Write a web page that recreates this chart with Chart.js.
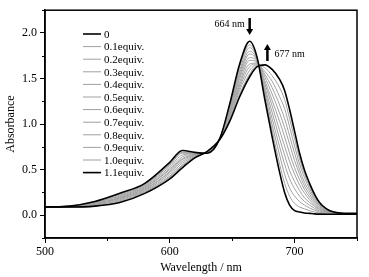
<!DOCTYPE html>
<html>
<head>
<meta charset="utf-8">
<script src="https://cdn.jsdelivr.net/npm/chart.js@4"></script>
<style>
  html, body { margin: 0; padding: 0; background: #fff; }
  canvas { display: block; }
</style>
</head>
<body>
<canvas id="chart" width="369" height="277"></canvas>
<script>
// wavelength grid (nm)
const wavelengths = [500, 520, 540, 560, 580, 600, 610, 620, 630, 640, 648, 656, 664, 670, 676, 682, 688, 692, 696, 700, 704, 708, 712, 716, 720, 725, 730, 740, 750];

// absorbance for each equivalent
const eq00 = [0.09, 0.10, 0.15, 0.24, 0.35, 0.58, 0.71, 0.69, 0.68, 0.84, 1.22, 1.66, 1.91, 1.73, 1.28, 0.86, 0.47, 0.25, 0.11, 0.05, 0.035, 0.025, 0.02, 0.015, 0.012, 0.01, 0.01, 0.01, 0.01];
const eq01 = [0.09, 0.10, 0.15, 0.23, 0.34, 0.56, 0.69, 0.685, 0.68, 0.84, 1.20, 1.63, 1.87, 1.72, 1.31, 0.93, 0.56, 0.35, 0.21, 0.13, 0.09, 0.07, 0.05, 0.035, 0.024, 0.016, 0.013, 0.011, 0.011];
const eq02 = [0.09, 0.10, 0.14, 0.22, 0.33, 0.55, 0.68, 0.68, 0.684, 0.84, 1.19, 1.59, 1.84, 1.71, 1.35, 0.99, 0.66, 0.45, 0.30, 0.21, 0.15, 0.11, 0.08, 0.055, 0.035, 0.022, 0.015, 0.012, 0.012];
const eq03 = [0.09, 0.10, 0.14, 0.21, 0.32, 0.53, 0.66, 0.674, 0.685, 0.84, 1.17, 1.56, 1.80, 1.70, 1.38, 1.06, 0.75, 0.56, 0.40, 0.29, 0.21, 0.15, 0.11, 0.075, 0.047, 0.028, 0.018, 0.013, 0.013];
const eq04 = [0.09, 0.10, 0.13, 0.20, 0.31, 0.51, 0.64, 0.668, 0.687, 0.84, 1.15, 1.53, 1.77, 1.69, 1.41, 1.13, 0.84, 0.66, 0.49, 0.37, 0.27, 0.19, 0.14, 0.095, 0.059, 0.034, 0.021, 0.014, 0.014];
const eq05 = [0.09, 0.10, 0.13, 0.19, 0.30, 0.50, 0.62, 0.663, 0.689, 0.84, 1.13, 1.50, 1.73, 1.68, 1.45, 1.20, 0.93, 0.76, 0.59, 0.45, 0.33, 0.24, 0.17, 0.11, 0.07, 0.04, 0.024, 0.015, 0.015];
const eq06 = [0.09, 0.09, 0.12, 0.19, 0.29, 0.48, 0.61, 0.657, 0.691, 0.83, 1.12, 1.46, 1.70, 1.68, 1.48, 1.26, 1.03, 0.86, 0.68, 0.52, 0.39, 0.28, 0.20, 0.13, 0.082, 0.045, 0.026, 0.015, 0.015];
const eq07 = [0.09, 0.09, 0.12, 0.18, 0.28, 0.47, 0.59, 0.652, 0.693, 0.83, 1.10, 1.43, 1.66, 1.67, 1.52, 1.33, 1.12, 0.96, 0.78, 0.60, 0.45, 0.32, 0.23, 0.15, 0.093, 0.051, 0.029, 0.016, 0.016];
const eq08 = [0.09, 0.09, 0.11, 0.17, 0.27, 0.45, 0.57, 0.646, 0.695, 0.83, 1.08, 1.40, 1.63, 1.66, 1.55, 1.40, 1.21, 1.06, 0.87, 0.68, 0.50, 0.36, 0.26, 0.17, 0.105, 0.057, 0.032, 0.017, 0.017];
const eq09 = [0.09, 0.09, 0.11, 0.16, 0.26, 0.43, 0.55, 0.641, 0.696, 0.83, 1.06, 1.37, 1.59, 1.65, 1.58, 1.47, 1.30, 1.17, 0.97, 0.76, 0.56, 0.41, 0.29, 0.19, 0.117, 0.063, 0.035, 0.018, 0.018];
const eq10 = [0.09, 0.09, 0.10, 0.15, 0.25, 0.42, 0.54, 0.635, 0.698, 0.83, 1.05, 1.33, 1.55, 1.64, 1.62, 1.53, 1.40, 1.27, 1.06, 0.84, 0.62, 0.45, 0.32, 0.21, 0.128, 0.069, 0.037, 0.019, 0.019];
const eq11 = [0.09, 0.09, 0.10, 0.14, 0.24, 0.40, 0.52, 0.63, 0.70, 0.83, 1.03, 1.30, 1.52, 1.63, 1.65, 1.60, 1.49, 1.37, 1.16, 0.92, 0.68, 0.49, 0.35, 0.23, 0.14, 0.075, 0.04, 0.02, 0.02];

const seriesLabels = ['0', '0.1equiv.', '0.2equiv.', '0.3equiv.', '0.4equiv.', '0.5equiv.', '0.6equiv.', '0.7equiv.', '0.8equiv.', '0.9equiv.', '1.0equiv.', '1.1equiv.'];
const seriesValues = [eq00, eq01, eq02, eq03, eq04, eq05, eq06, eq07, eq08, eq09, eq10, eq11];

const xTicks = [500, 600, 700];
const xMinorTicks = [550, 650, 750];
const yTicks = [0, 0.5, 1.0, 1.5, 2.0];
const yMinorTicks = [-0.25, 0.25, 0.75, 1.25, 1.75, 2.25];

const peakMarks = [
  { nm: 664, text: '664 nm', dir: 'down' },
  { nm: 677, text: '677 nm', dir: 'up' }
];

const serif = '"Liberation Serif", "Times New Roman", serif';
const GRAY = '#a0a0a0';

const datasets = seriesValues.map((vals, i) => {
  const isEnd = i === 0 || i === seriesValues.length - 1;
  return {
    label: seriesLabels[i],
    data: wavelengths.map((w, j) => ({ x: w, y: vals[j] })),
    borderColor: isEnd ? '#000' : GRAY,
    borderWidth: isEnd ? 1.6 : 1,
    pointRadius: 0,
    fill: false,
    cubicInterpolationMode: 'monotone',
    order: isEnd ? 0 : 1
  };
});

// legend inside the plot, plus box, minor ticks and peak arrows
const decorations = {
  id: 'decorations',
  afterDatasetsDraw(chart) {
    const { ctx, chartArea: a, scales: { x, y } } = chart;
    ctx.save();

    // frame
    ctx.strokeStyle = '#000';
    ctx.lineWidth = 1.5;
    ctx.strokeRect(a.left, a.top, a.right - a.left, a.bottom - a.top);

    // minor ticks
    ctx.lineWidth = 1;
    ctx.beginPath();
    xMinorTicks.forEach(v => {
      const px = Math.round(x.getPixelForValue(v)) + 0.5;
      ctx.moveTo(px, a.bottom);
      ctx.lineTo(px, a.bottom + 3);
    });
    yMinorTicks.forEach(v => {
      const py = Math.round(y.getPixelForValue(v)) + 0.5;
      ctx.moveTo(a.left, py);
      ctx.lineTo(a.left - 3, py);
    });
    ctx.stroke();

    // legend
    ctx.font = '11px ' + serif;
    ctx.textBaseline = 'middle';
    ctx.textAlign = 'left';
    chart.data.datasets.forEach((ds, i) => {
      const ly = 34 + i * 12.6;
      ctx.strokeStyle = ds.borderColor;
      ctx.lineWidth = ds.borderWidth;
      ctx.beginPath();
      ctx.moveTo(83, ly);
      ctx.lineTo(101, ly);
      ctx.stroke();
      ctx.fillStyle = '#000';
      ctx.fillText(ds.label, 104, ly + 1);
    });

    // peak arrows
    ctx.fillStyle = '#000';
    ctx.strokeStyle = '#000';
    peakMarks.forEach(m => {
      const down = m.dir === 'down';
      const ax = x.getPixelForValue(m.nm) + (down ? 0 : 1.5);
      const top = down ? 18 : 44;
      const bottom = down ? 35 : 61;
      ctx.lineWidth = 2.5;
      ctx.beginPath();
      if (down) {
        ctx.moveTo(ax, top);
        ctx.lineTo(ax, bottom - 5);
      } else {
        ctx.moveTo(ax, bottom);
        ctx.lineTo(ax, top + 5);
      }
      ctx.stroke();
      ctx.beginPath();
      if (down) {
        ctx.moveTo(ax - 3.5, bottom - 6);
        ctx.lineTo(ax + 3.5, bottom - 6);
        ctx.lineTo(ax, bottom);
      } else {
        ctx.moveTo(ax - 3.5, top + 6);
        ctx.lineTo(ax + 3.5, top + 6);
        ctx.lineTo(ax, top);
      }
      ctx.closePath();
      ctx.fill();
      ctx.font = '10px ' + serif;
      ctx.textAlign = down ? 'right' : 'left';
      ctx.textBaseline = 'middle';
      ctx.fillText(m.text, down ? ax - 5 : ax + 7, down ? 24 : 54);
    });

    ctx.restore();
  }
};

new Chart(document.getElementById('chart').getContext('2d'), {
  type: 'line',
  data: { datasets },
  options: {
    responsive: false,
    animation: false,
    layout: { padding: { top: 7, right: 12, left: 0, bottom: 0 } },
    plugins: { legend: { display: false }, tooltip: { enabled: false } },
    scales: {
      x: {
        type: 'linear',
        min: 500,
        max: 750,
        afterBuildTicks: s => { s.ticks = xTicks.map(v => ({ value: v })); },
        afterFit: s => { s.height = 39; },
        ticks: { color: '#000', font: { family: serif, size: 12 }, padding: 2, maxRotation: 0 },
        grid: { drawOnChartArea: false, color: '#000', tickLength: 5, tickWidth: 1 },
        border: { color: '#000', width: 1.5 },
        title: { display: true, text: 'Wavelength / nm', color: '#000', font: { family: serif, size: 12 }, padding: { top: 0, bottom: 2 } }
      },
      y: {
        type: 'linear',
        min: -0.25,
        max: 2.25,
        afterBuildTicks: s => { s.ticks = yTicks.map(v => ({ value: v })); },
        afterFit: s => { s.width = 45; },
        ticks: { color: '#000', font: { family: serif, size: 12 }, padding: 3, callback: v => v.toFixed(1) },
        grid: { drawOnChartArea: false, color: '#000', tickLength: 5, tickWidth: 1 },
        border: { color: '#000', width: 1.5 },
        title: { display: true, text: 'Absorbance', color: '#000', font: { family: serif, size: 12 }, padding: { top: 4, bottom: 0 } }
      }
    }
  },
  plugins: [decorations]
});
</script>
</body>
</html>
